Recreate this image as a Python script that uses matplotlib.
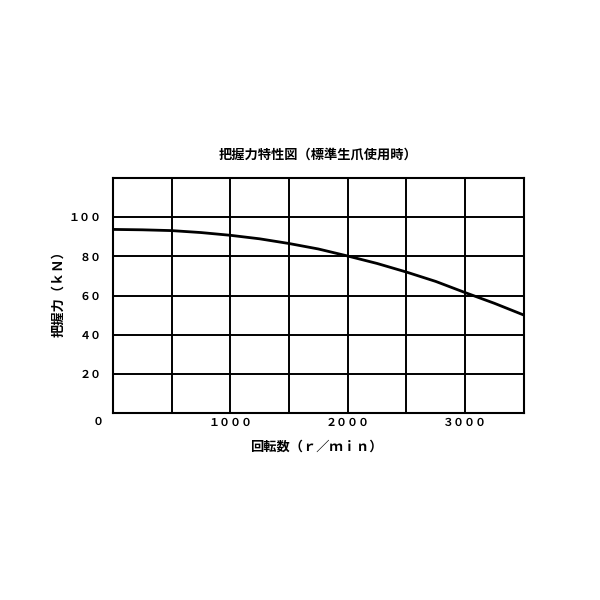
import matplotlib
matplotlib.use("Agg")
import matplotlib.pyplot as plt

plt.rcParams['font.family'] = ['Noto Sans CJK JP', 'DejaVu Sans']

rpm = [0, 250, 500, 750, 1000, 1250, 1500, 1750, 2000, 2250, 2500, 2750, 3000, 3250, 3500]
force = [93.8, 93.6, 93.2, 92.2, 90.8, 89.0, 86.6, 83.8, 80.2, 76.4, 72.0, 67.2, 61.5, 56.0, 50.0]

x_ticks = [1000, 2000, 3000]
x_tick_labels = ["１０００", "２０００", "３０００"]
y_ticks = [20, 40, 60, 80, 100]
y_tick_labels = ["２０", "４０", "６０", "８０", "１００"]
origin_label = "０"

title = "把握力特性図（標準生爪使用時）"
xlabel = "回転数（ｒ／ｍｉｎ）"
ylabel = "把握力（ｋＮ）"

fig = plt.figure(figsize=(6, 6), dpi=100)
ax = fig.add_axes([0.188, 0.312, 0.685, 0.391])
ax.set_xlim(0, 3500)
ax.set_ylim(0, 120)

for gx in range(500, 3500, 500):
    ax.axvline(gx, color='black', lw=1.4, zorder=1)
for gy in range(20, 120, 20):
    ax.axhline(gy, color='black', lw=1.4, zorder=1)

ax.plot(rpm, force, color='black', lw=2.0, zorder=3)

for s in ax.spines.values():
    s.set_linewidth(1.5)
    s.set_color('black')

tick_fs = 7.9
ax.set_xticks(x_ticks)
ax.set_xticklabels(x_tick_labels, fontsize=tick_fs, fontweight='bold')
ax.set_yticks(y_ticks)
ax.set_yticklabels(y_tick_labels, fontsize=tick_fs, fontweight='bold')
ax.tick_params(axis='both', length=0)
ax.tick_params(axis='x', pad=4)
ax.tick_params(axis='y', pad=8)

fig.text(98 / 600, 1 - 422 / 600, origin_label, fontsize=tick_fs, fontweight='bold',
         ha='center', va='center')

fig.text(318 / 600, 1 - 155 / 600, title, fontsize=9.5, fontweight='bold', ha='center', va='center')
fig.text(316 / 600, 1 - 447 / 600, xlabel, fontsize=9.5, fontweight='bold', ha='center', va='center')
fig.text(58 / 600, 1 - 291 / 600, ylabel, fontsize=9.5, fontweight='bold', ha='center', va='center',
         rotation=90)

fig.savefig("out.png", dpi=100, facecolor='white')
